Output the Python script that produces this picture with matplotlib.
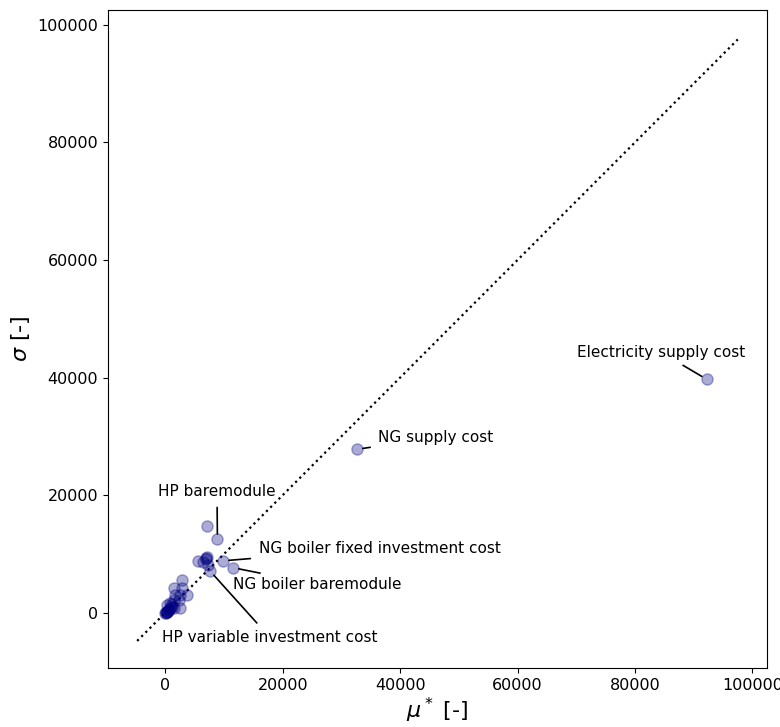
import matplotlib
matplotlib.use('Agg')
import matplotlib.pyplot as plt
import numpy as np

# Morris screening results: mu* vs sigma
mu_star = [92200, 32700, 8870, 7060, 9880, 11580, 7630,
           6900, 7100, 5600, 6400, 7300, 7000,
           2800, 1530, 2800, 3640, 2430, 1700, 1410, 2260, 2540,
           850, 290, 1410, 0, 560, 1130, 200, 400, 700, 100, 300, 900, 1200, 50]
sigma = [39700, 27800, 12450, 14720, 8830, 7640, 7080,
         9300, 9500, 8800, 8700, 8150, 9100,
         5550, 4240, 4240, 3000, 3000, 3000, 2150, 2150, 730,
         1580, 1300, 730, -100, 460, 1020, 100, 300, 600, 0, 200, 900, 1500, 50]

labels = ['Electricity supply cost', 'NG supply cost', 'HP baremodule',
          'NG boiler fixed investment cost', 'NG boiler baremodule',
          'HP variable investment cost']
label_idx = [0, 1, 2, 4, 5, 6]
label_pos = [(84400, 44300, 'center'), (36300, 29800, 'left'), (8800, 20600, 'center'),
             (15900, 11000, 'left'), (11500, 4800, 'left'), (17800, -4200, 'center')]

fig = plt.figure(figsize=(7.8, 7.27), dpi=100)
ax = fig.add_axes([0.1385, 0.0812, 0.845, 0.905])

ax.scatter(mu_star, sigma, s=65, color='navy', alpha=0.33, zorder=3)

lo = min(min(mu_star), min(sigma)) - 4700
hi = max(max(mu_star), max(sigma)) + 5300
ax.plot([lo, hi], [lo, hi], ':', color='black', lw=1.6)

for name, i, (tx, ty, ha) in zip(labels, label_idx, label_pos):
    ax.annotate(name, xy=(mu_star[i], sigma[i]), xytext=(tx, ty),
                ha=ha, va='center', fontsize=11,
                arrowprops=dict(arrowstyle='-', color='black', lw=1.2,
                                shrinkA=4, shrinkB=4))

ax.set_xlim(-9760, 102500)
ax.set_ylim(-9400, 102500)
ax.tick_params(labelsize=11.5)
ax.set_xlabel(r'$\mu^*$ [-]', fontsize=16, labelpad=2)
ax.set_ylabel(r'$\sigma$ [-]', fontsize=16)

plt.savefig('out.png', dpi=100)
